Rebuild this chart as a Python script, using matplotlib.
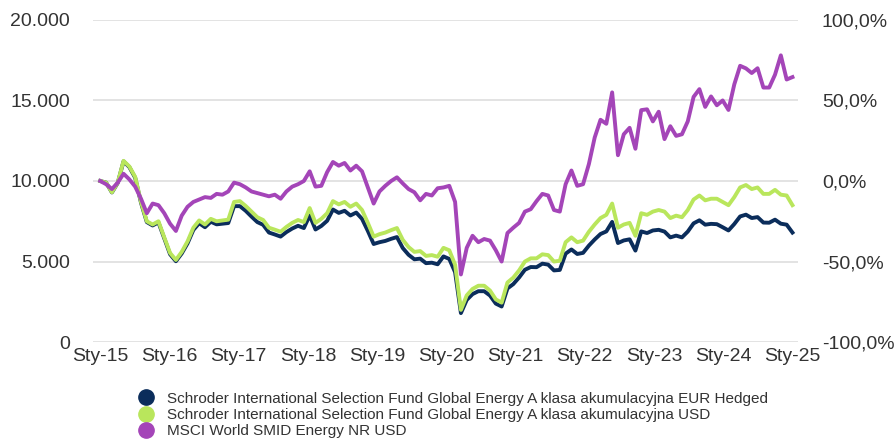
import numpy as np
import pandas as pd
import matplotlib
matplotlib.use("Agg")
import matplotlib.pyplot as plt
from matplotlib.lines import Line2D
from matplotlib.ticker import FuncFormatter

plt.rcParams['font.family'] = ['Liberation Sans', 'DejaVu Sans']

# monthly values (growth of 10 000), Jan 2015 .. Jan 2025
eur_hedged = [10000, 9900, 9290, 9880, 11220, 10860, 10200, 8650, 7450, 7240, 7430, 6440,
              5450, 5020, 5500, 6130, 6960, 7380, 7130, 7470, 7310, 7350, 7390, 8440,
              8440, 8150, 7790, 7450, 7280, 6800, 6680, 6550, 6830, 7050, 7220, 7080,
              7860, 6990, 7210, 7530, 8230, 8020, 8150, 7860, 8040, 7650, 6900, 6090,
              6200, 6280, 6410, 6520, 5840, 5420, 5140, 5180, 4900, 4930, 4830, 5320,
              5160, 4340, 1800, 2620, 2980, 3160, 3160, 2890, 2390, 2210, 3330, 3600,
              4010, 4490, 4660, 4650, 4870, 4810, 4450, 4480, 5490, 5750, 5470, 5540,
              5990, 6370, 6710, 6870, 7460, 6150, 6310, 6380, 5680, 6870, 6770, 6930,
              6970, 6860, 6500, 6610, 6500, 6860, 7370, 7560, 7290, 7340, 7320, 7130,
              6930, 7330, 7800, 7910, 7700, 7760, 7420, 7410, 7600, 7350, 7290, 6800]
usd = [10000, 9900, 9300, 9900, 11250, 10900, 10250, 8700, 7500, 7300, 7500, 6500,
       5530, 5100, 5600, 6250, 7100, 7550, 7300, 7650, 7500, 7550, 7600, 8700,
       8750, 8450, 8100, 7750, 7580, 7100, 6980, 6850, 7150, 7400, 7580, 7450,
       8320, 7400, 7650, 8000, 8750, 8550, 8700, 8400, 8600, 8200, 7400, 6550,
       6700, 6800, 6950, 7080, 6350, 5900, 5600, 5650, 5350, 5400, 5300, 5850,
       5700, 4800, 2000, 2900, 3300, 3500, 3500, 3200, 2650, 2450, 3700, 4000,
       4450, 5000, 5200, 5200, 5450, 5400, 5000, 5050, 6200, 6500, 6200, 6300,
       6850, 7300, 7700, 7900, 8600, 7100, 7300, 7400, 6600, 8000, 7900, 8100,
       8200, 8100, 7700, 7850, 7750, 8200, 8850, 9100, 8800, 8900, 8900, 8700,
       8500, 9000, 9600, 9750, 9500, 9600, 9200, 9200, 9450, 9150, 9100, 8500]
msci = [10000, 9800, 9500, 9900, 10450, 10100, 9650, 8900, 8000, 8600, 8500, 8000,
        7350, 6900, 7850, 8400, 8700, 8850, 9000, 8950, 9200, 9150, 9350, 9900,
        9800, 9600, 9350, 9250, 9150, 9050, 9150, 8900, 9350, 9650, 9800, 10000,
        10600, 9650, 9700, 10550, 11180, 10950, 11120, 10650, 10950, 10600, 9600, 8600,
        9350, 9700, 10000, 10230, 9850, 9500, 9300, 8800, 9200, 9100, 9550, 9600,
        9700, 8700, 4200, 5850, 6600, 6200, 6400, 6300, 5700, 5000, 6770, 7100,
        7400, 8100, 8250, 8750, 9200, 9100, 8200, 8100, 9800, 10650, 9700, 9800,
        11050, 12700, 13800, 13550, 15500, 11600, 12900, 13300, 12000, 14400, 14450, 13700,
        14300, 12600, 13400, 12800, 12900, 13700, 15220, 15700, 14600, 15250, 14700, 15000,
        14410, 16000, 17150, 16990, 16700, 17000, 15800, 15800, 16600, 17800, 16300, 16450]

names = ['Schroder International Selection Fund Global Energy A klasa akumulacyjna EUR Hedged',
         'Schroder International Selection Fund Global Energy A klasa akumulacyjna USD',
         'MSCI World SMID Energy NR USD']
colors = ['#0b2d5b', '#b9e65c', '#a445b8']
xlabels = ['Sty-15', 'Sty-16', 'Sty-17', 'Sty-18', 'Sty-19', 'Sty-20',
           'Sty-21', 'Sty-22', 'Sty-23', 'Sty-24', 'Sty-25']

dates = pd.date_range('2015-01-01', '2025-01-01', periods=len(usd))
ticks = pd.to_datetime([f'20{s[-2:]}-01-01' for s in xlabels])

fig = plt.figure(figsize=(8.95, 4.42), dpi=100)
ax = fig.add_axes([0.104, 0.226, 0.788, 0.729])

for vals, c in zip([eur_hedged, usd, msci], colors):
    ax.plot(dates, vals, color=c, lw=2.8, solid_joinstyle='round')

ax.set_ylim(0, 20000)
ax.set_yticks([0, 5000, 10000, 15000, 20000])
ax.yaxis.set_major_formatter(FuncFormatter(lambda v, p: f'{int(v):,}'.replace(',', '.')))
ax.set_xlim(pd.Timestamp('2014-11-24'), pd.Timestamp('2025-02-01'))
ax.set_xticks(ticks)
ax.set_xticklabels(xlabels)
ax.grid(axis='y', color='#e3e3e3', lw=1.4)
ax.set_axisbelow(True)
for s in ax.spines.values():
    s.set_visible(False)
ax.tick_params(axis='y', length=0, pad=16.5, labelsize=14, labelcolor='#333333')
ax.tick_params(axis='x', length=0, pad=4, labelsize=14, labelcolor='#333333')

ax2 = ax.twinx()
ax2.set_ylim(-100, 100)
ax2.set_yticks([-100, -50, 0, 50, 100])
ax2.yaxis.set_major_formatter(FuncFormatter(lambda v, p: f'{v:.1f}%'.replace('.', ',')))
for s in ax2.spines.values():
    s.set_visible(False)
ax2.tick_params(axis='y', length=0, pad=17, labelsize=14, labelcolor='#333333')

handles = [Line2D([], [], ls='none', marker='o', ms=11, color=c) for c in colors]
fig.legend(handles, names, loc='upper left', bbox_to_anchor=(0.1551, 0.1138),
           frameon=False, fontsize=11, handlelength=1.0, handletextpad=0.82,
           labelspacing=0.15, borderpad=0, borderaxespad=0, labelcolor='#333333')

fig.savefig('out.png', dpi=100)
